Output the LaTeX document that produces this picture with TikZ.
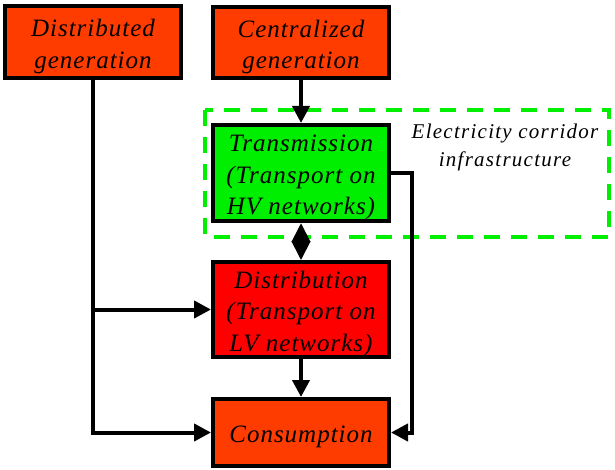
\documentclass[tikz,border=0pt]{standalone}
\usepackage{fontspec}
\newfontfamily\boxfont{Liberation Serif Italic}[LetterSpace=4]
\newfontfamily\notefont{Liberation Serif Italic}[LetterSpace=6]
\usetikzlibrary{arrows.meta}
\definecolor{genorange}{RGB}{255,60,0}
\definecolor{distred}{RGB}{255,0,0}
\definecolor{transgreen}{RGB}{0,238,0}
\definecolor{corridorgreen}{RGB}{0,238,0}
% centred lines of a block, set a little below the middle of the block
\newcommand\blocklines[1]{\raisebox{-4pt}[\height][\depth]{\begin{tabular}{@{}c@{}}#1\end{tabular}}}
\tikzset{
  block/.style={draw=black, line width=4pt, minimum width=176pt,
    inner sep=0pt, font=\boxfont\fontsize{25}{31.5}\selectfont},
  flow/.style={line width=4pt, -{Triangle[length=17pt,width=17pt]}},
  twoway/.style={line width=4pt, {Triangle[length=19pt,width=18pt]}-{Triangle[length=19pt,width=18pt]}},
  corridor/.style={draw=corridorgreen, line width=4pt, dash pattern=on 16pt off 11pt},
  note/.style={align=center, font=\notefont\fontsize{21}{28}\selectfont}
}
\begin{document}
\begin{tikzpicture}[x=1pt,y=-1pt]
  \useasboundingbox (0,0) rectangle (615,470);

  % corridor frame around the transmission level
  \draw[corridor] (205,110.5) rectangle (609,237);
  \node[note] (corr) at (505,147) {Electricity corridor\\infrastructure};

  % blocks
  \node[block, fill=genorange, minimum height=72pt] (dgen) at (93,42) {\blocklines{Distributed\\generation}};
  \node[block, fill=genorange, minimum height=71pt] (cgen) at (301,42.5) {\blocklines{Centralized\\generation}};
  \node[block, fill=transgreen, minimum height=96pt] (trans) at (301,173) {\blocklines{Transmission\\(Transport on\\HV networks)}};
  \node[block, fill=distred, minimum height=93pt] (dist) at (301,309.5) {\blocklines{Distribution\\(Transport on\\LV networks)}};
  \node[block, fill=genorange, minimum height=67pt] (cons) at (301,432.5) {\blocklines{Consumption}};

  % vertical chain
  \draw[flow] (cgen) -- (trans);
  \draw[twoway] (trans) -- (dist);
  \draw[flow] (dist) -- (cons);

  % distributed generation feeds distribution and consumption
  \draw[flow] (dgen.south) -- (dgen.south |- cons.west) -- (cons.west);
  \draw[flow] (dgen.south |- dist.west) -- (dist.west);

  % direct link from transmission to consumption
  \coordinate (rside) at (412,0);
  \draw[flow] (trans.east) -| (rside |- cons.east) -- (cons.east);
\end{tikzpicture}
\end{document}
